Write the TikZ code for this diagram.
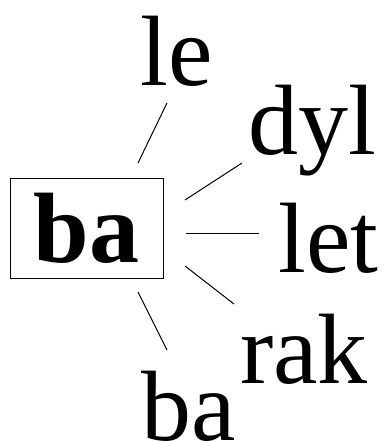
\documentclass[tikz,border=0pt]{standalone}
\usepackage{fontspec}
\setmainfont{Liberation Serif}
\begin{document}
\begin{tikzpicture}[x=1pt,y=-1pt,
  word/.style={inner sep=0pt,anchor=base,font=\fontsize{100}{110}\selectfont},
  box/.style={draw,line width=1pt,inner sep=0pt,minimum width=153pt,minimum height=100pt,font=\fontsize{100}{110}\selectfont\bfseries},
  link/.style={line width=1pt}]
\useasboundingbox (0,0) rectangle (383,442);
\node[box] (ba) at (86.5,228) {ba};
\node[word] (le) at (176.5,85) {le};
\node[word] (dyl) at (312.5,154) {dyl};
\node[word] (let) at (328.5,272) {let};
\node[word] (rak) at (304,383) {rak};
\node[word] (ba2) at (189,440) {ba};
\coordinate (le-a) at (138,163);
\coordinate (le-b) at (167,103);
\coordinate (dyl-a) at (185,200);
\coordinate (dyl-b) at (242,163);
\coordinate (let-a) at (186,233);
\coordinate (let-b) at (259,233);
\coordinate (rak-a) at (185,266);
\coordinate (rak-b) at (234,304);
\coordinate (ba2-a) at (138,292);
\coordinate (ba2-b) at (167,350);
\draw[link] (le-a) -- (le-b);
\draw[link] (dyl-a) -- (dyl-b);
\draw[link] (let-a) -- (let-b);
\draw[link] (rak-a) -- (rak-b);
\draw[link] (ba2-a) -- (ba2-b);
\end{tikzpicture}
\end{document}
